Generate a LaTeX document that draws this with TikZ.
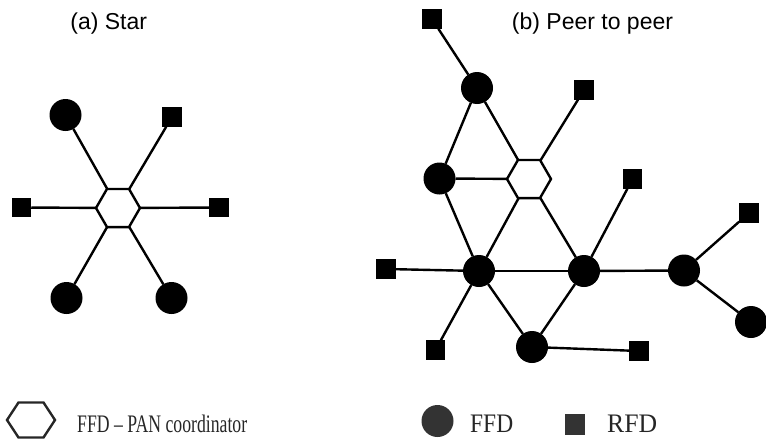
\documentclass[tikz,border=0pt]{standalone}
\usepackage{fontspec}
\setmainfont{Liberation Serif}
\setsansfont{Liberation Sans}
\usetikzlibrary{shapes.geometric}
\begin{document}
\begin{tikzpicture}[x=1pt,y=-1pt,
  link/.style={line width=2.4pt},
  ffd/.style={circle,fill=black,minimum size=32pt,inner sep=0pt,outer sep=0pt},
  rfd/.style={rectangle,fill=black,minimum size=19.5pt,inner sep=0pt,outer sep=0pt},
  pan/.style={regular polygon,regular polygon sides=6,draw=black,fill=white,line width=2.4pt,minimum size=44pt,inner sep=0pt,outer sep=0pt},
  title/.style={font=\sffamily\fontsize{23}{23}\selectfont,anchor=base,inner sep=0pt},
  legtext/.style={anchor=base west,inner sep=0pt,text=black!85},
  legshape/.style={fill=black!80}]
\useasboundingbox (0,0) rectangle (766,442);

% ---------- (a) Star ----------
\node[title] (ta) at (108.7,29.5) {(a) Star};
\node[pan] (hs) at (118,208) {};
\node[ffd] (s1) at (65.5,115) {};
\node[rfd] (s2) at (172,117) {};
\node[rfd] (s3) at (21.5,207.5) {};
\node[rfd] (s4) at (219,207.5) {};
\node[ffd] (s5) at (66.5,298) {};
\node[ffd] (s6) at (171.5,298) {};
\foreach \n in {s1,s2,s3,s4,s5,s6} \draw[link] (hs) -- (\n);

% ---------- (b) Peer to peer ----------
\node[title] (tb) at (592.5,29.5) {(b) Peer to peer};
\node[pan] (ph) at (529,179) {};
\node[rfd] (p1) at (432,19) {};
\node[ffd] (pa) at (477,88) {};
\node[rfd] (pb) at (584,90) {};
\node[ffd] (pc) at (439.5,178.5) {};
\node[rfd] (pd) at (632.5,179) {};
\node[rfd] (pe) at (749,213) {};
\node[rfd] (pf) at (386,269) {};
\node[ffd] (pg) at (479,271) {};
\node[ffd] (pk) at (584,271) {};
\node[ffd] (pi) at (684,270.5) {};
\node[ffd] (pj) at (751,322) {};
\node[rfd] (pm) at (435.5,350) {};
\node[ffd] (pl) at (532,347) {};
\node[rfd] (pn) at (639,351) {};

\draw[link] (p1) -- (pa);
\draw[link] (pa) -- (pc);
\draw[link] (pa) -- (ph);
\draw[link] (ph) -- (pb);
\draw[link] (pc) -- (ph);
\draw[link] (pc) -- (pg);
\draw[link] (ph) -- (pg);
\draw[link] (ph) -- (pk);
\draw[link] (pd) -- (pk);
\draw[link] (pf) -- (pg);
\draw[link] (pg) -- (pk);
\draw[link] (pk) -- (pi);
\draw[link] (pi) -- (pe);
\draw[link] (pi) -- (pj);
\draw[link] (pg) -- (pm);
\draw[link] (pg) -- (pl);
\draw[link] (pk) -- (pl);
\draw[link] (pl) -- (pn);

% ---------- legend ----------
\draw[line width=2.4pt,draw=black!85] (7,420) -- (18.5,402.5) -- (43.5,402.5) -- (55,420) -- (43.5,437.5) -- (18.5,437.5) -- cycle;
\node[legtext] (l1) at (77,432.5) {\resizebox{170pt}{17.5pt}{FFD – PAN coordinator}};
\node[circle,legshape,minimum size=32pt,inner sep=0pt] (lc) at (437.5,421) {};
\node[legtext] (l2) at (470,432.5) {\resizebox{43pt}{17.5pt}{FFD}};
\node[rectangle,legshape,minimum width=20pt,minimum height=21pt,inner sep=0pt] (ls) at (574.5,424) {};
\node[legtext] (l3) at (607,432.5) {\resizebox{50pt}{17.5pt}{RFD}};
\end{tikzpicture}
\end{document}
